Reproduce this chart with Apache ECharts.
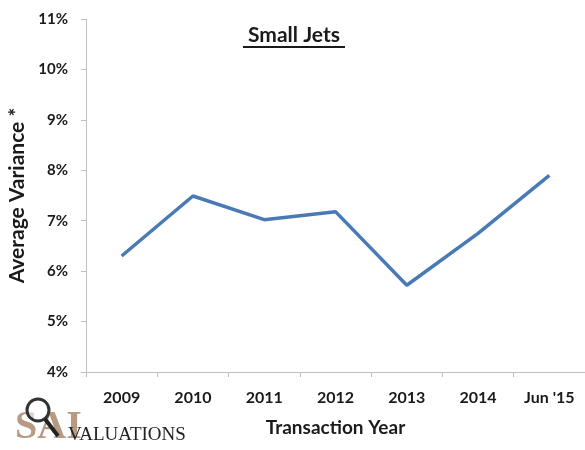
<!DOCTYPE html>
<html>
<head>
<meta charset="utf-8">
<script src="https://cdn.jsdelivr.net/npm/echarts@6/dist/echarts.min.js"></script>
<style>
html,body{margin:0;padding:0;background:#fff;}
#chart{width:585px;height:450px;}
</style>
</head>
<body>
<div id="chart"></div>
<script>
var categories = ['2009', '2010', '2011', '2012', '2013', '2014', "Jun '15"];
var variance = [6.30, 7.49, 7.02, 7.18, 5.72, 6.75, 7.90];
var yMin = 4, yMax = 11, yStep = 1;

var chart = echarts.init(document.getElementById('chart'));
var font = 'Lato, "Open Sans", sans-serif';
chart.setOption({
  animation: false,
  backgroundColor: '#ffffff',
  graphic: [
    { type: 'text', x: 294, y: 35, style: { text: 'Small Jets', font: 'bold 21px Lato, sans-serif', fill: '#1a1a1a', align: 'center', verticalAlign: 'middle' } },
    { type: 'rect', shape: { x: 243, y: 46, width: 102, height: 2 }, style: { fill: '#1a1a1a' } },
    { type: 'text', x: 15, y: 448, style: { text: 'SAI', font: 'bold 40px "Liberation Serif", serif', fill: '#a0785a', opacity: 0.75, verticalAlign: 'bottom' } },
    { type: 'circle', shape: { cx: 38, cy: 410, r: 11 }, style: { fill: 'rgba(255,255,255,0.55)', stroke: '#333', lineWidth: 3 } },
    { type: 'line', shape: { x1: 45, y1: 419, x2: 58, y2: 436 }, style: { stroke: '#222', lineWidth: 4 } },
    { type: 'text', x: 68, y: 445, style: { text: 'VALUATIONS', font: '19px "Liberation Serif", serif', fill: '#222', verticalAlign: 'bottom' } }
  ],
  grid: { left: 86, right: 0, top: 19, bottom: 78, containLabel: false, outerBoundsMode: 'none' },
  xAxis: {
    type: 'category',
    data: categories,
    boundaryGap: true,
    name: 'Transaction Year',
    nameLocation: 'middle',
    nameGap: 46,
    nameTextStyle: { fontFamily: font, fontWeight: 'bold', fontSize: 19, color: '#1a1a1a' },
    axisLine: { lineStyle: { color: '#bfbfbf', width: 1 } },
    axisTick: { show: true, length: 5, lineStyle: { color: '#bfbfbf' } },
    axisLabel: { fontFamily: font, fontWeight: 'bold', fontSize: 16, color: '#1a1a1a', margin: 18 },
    splitLine: { show: false }
  },
  yAxis: {
    type: 'value',
    min: yMin, max: yMax, interval: yStep,
    name: 'Average Variance *',
    nameLocation: 'middle',
    nameGap: 58,
    nameRotate: 90,
    nameTextStyle: { fontFamily: font, fontWeight: 'bold', fontSize: 21, color: '#1a1a1a' },
    axisLine: { show: true, lineStyle: { color: '#bfbfbf', width: 1 } },
    axisTick: { show: true, length: 5, lineStyle: { color: '#bfbfbf' } },
    axisLabel: { fontFamily: font, fontWeight: 'bold', fontSize: 15, color: '#1a1a1a', margin: 18,
      formatter: function (v) { return v + '%'; } },
    splitLine: { show: false }
  },
  series: [{
    type: 'line',
    data: variance,
    symbol: 'none',
    lineStyle: { color: '#4a7ab5', width: 3.5 }
  }]
});
</script>
</body>
</html>
